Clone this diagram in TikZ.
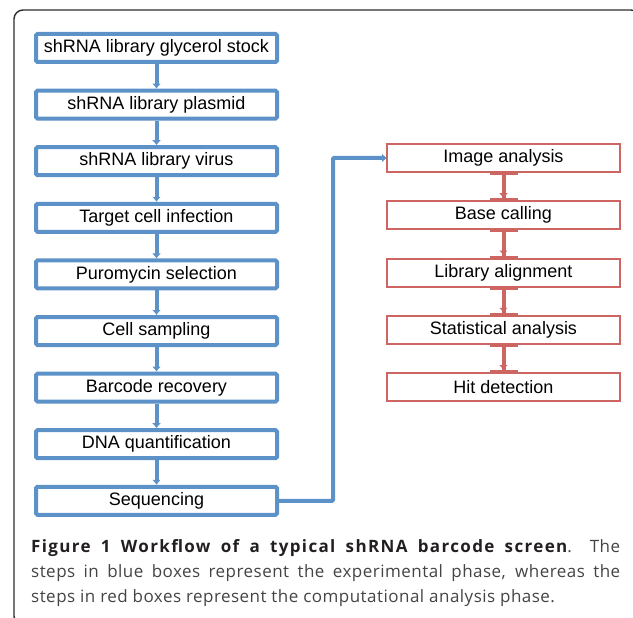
\documentclass[tikz,border=0pt]{standalone}
\usepackage{fontspec}
\setmainfont{Liberation Sans}
\newfontfamily\capfont[LetterSpace=2.8,BoldFeatures={LetterSpace=8}]{Open Sans}
\usepackage{xcolor}
\usetikzlibrary{arrows.meta,positioning}
\definecolor{stepblue}{RGB}{92,146,200}
\definecolor{stepred}{RGB}{205,102,98}
\definecolor{framegray}{RGB}{45,45,45}
\definecolor{captext}{RGB}{68,67,69}
\definecolor{capbold}{RGB}{35,31,32}

\begin{document}
\begin{tikzpicture}[x=1pt,y=-1pt,
    bluebox/.style={draw=stepblue,line width=4pt,rounded corners=1.5pt,
      minimum width=241pt,minimum height=28pt,inner sep=0pt,
      font=\fontsize{18}{20}\selectfont},
    redbox/.style={draw=stepred,line width=2pt,outer sep=0pt,
      minimum width=233pt,minimum height=28pt,inner sep=0pt,
      font=\fontsize{18}{20}\selectfont},
    blueline/.style={stepblue,line width=4pt,-{Latex[length=5pt,width=9pt]}},
    redline/.style={stepred,line width=4pt,
      {Bar[width=28pt,line width=3pt]}-{Latex[length=5pt,width=9pt]Bar[width=28pt,line width=3pt]}}]
  \useasboundingbox (0,0) rectangle (633,618);
  % frame
  \draw[framegray,line width=1.4pt,rounded corners=9pt] (14,10) rectangle (640,625);
  % experimental phase
  \foreach \t [count=\i] in {shRNA library glycerol stock,shRNA library plasmid,
      shRNA library virus,Target cell infection,Puromycin selection,Cell sampling,
      Barcode recovery,DNA quantification,Sequencing}
    \node[bluebox] (b\i) at (156.5,{48+56.6*(\i-1)}) {\t};
  \foreach \i [evaluate=\i as \j using int(\i+1)] in {1,...,8}
    \draw[blueline] (b\i.south) -- (b\j.north);
  % computational phase
  \foreach \t [count=\i] in {Image analysis,Base calling,Library alignment,
      Statistical analysis,Hit detection}
    \node[redbox] (r\i) at (503.5,{158+57.25*(\i-1)}) {\t};
  \foreach \i [evaluate=\i as \j using int(\i+1)] in {1,...,4}
    \draw[redline] (r\i.south) -- (r\j.north);
  \draw[blueline,rounded corners=1pt] (b9.east) -- ++(54,0) |- (r1.west);
  % caption
  \node[anchor=north west,text width=589pt,align=justify,inner sep=0pt,
    font=\capfont\fontsize{17}{25}\selectfont,text=captext] (cap) at (31,539)
    {{\bfseries\color{capbold}Figure 1 Workflow of a typical shRNA barcode screen}.
     The\linebreak steps in blue boxes represent the experimental phase, whereas
     the\linebreak steps in red boxes represent the computational analysis phase.};
\end{tikzpicture}
\end{document}
